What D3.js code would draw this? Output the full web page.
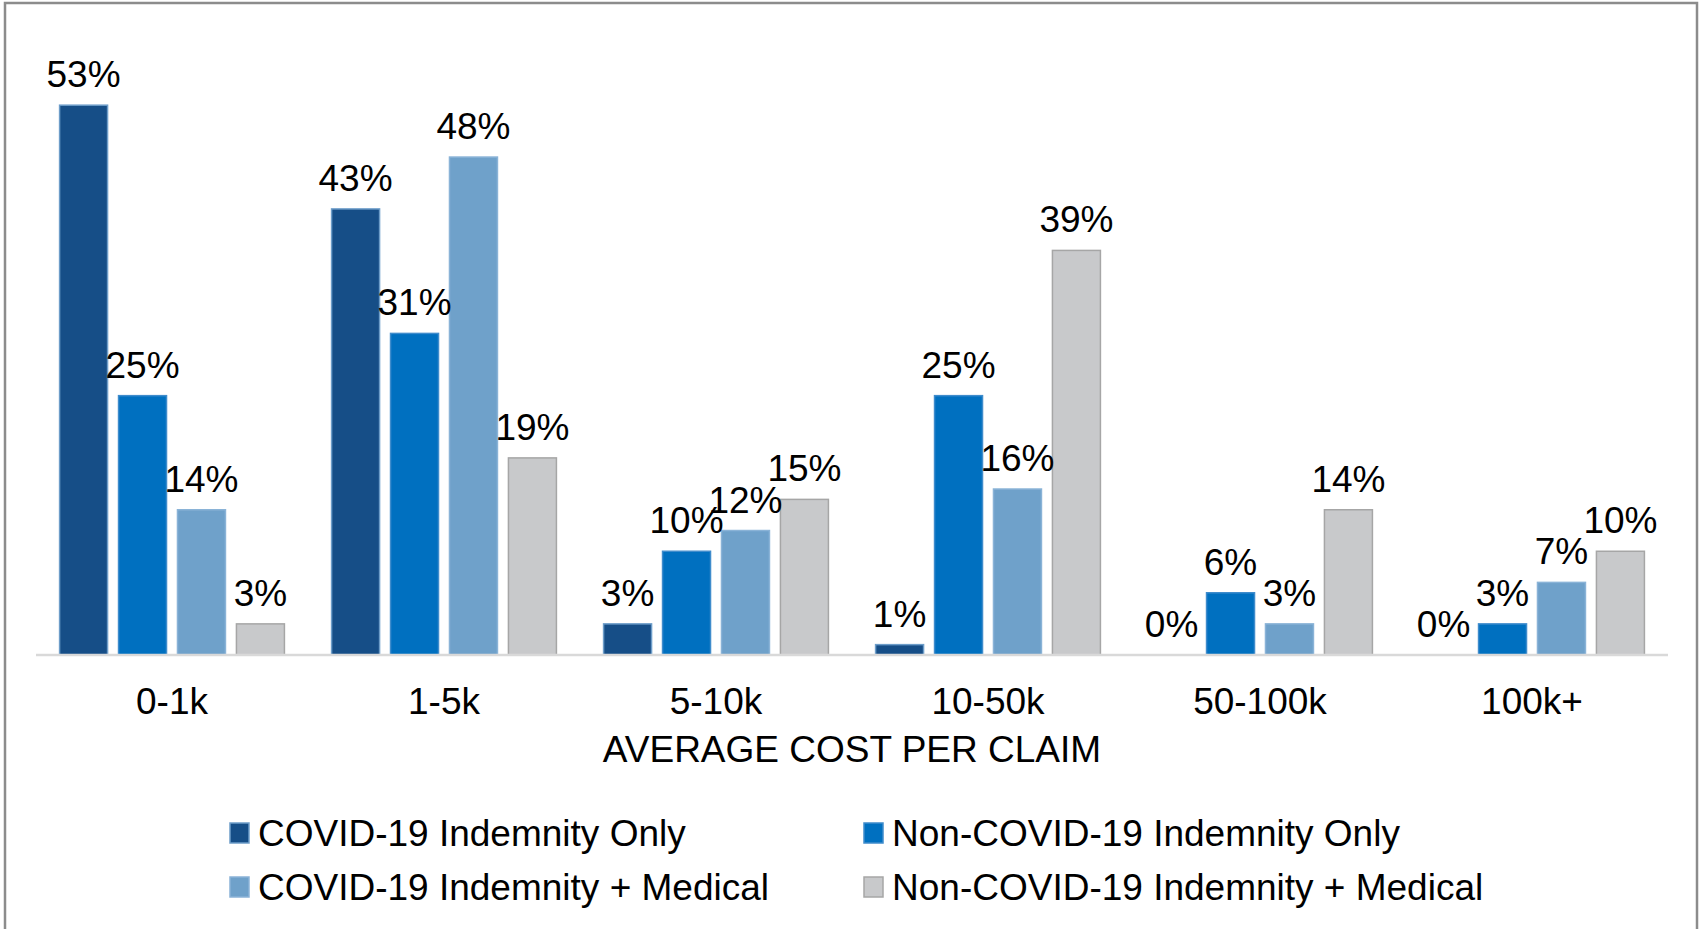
<!DOCTYPE html>
<html>
<head>
<meta charset="utf-8">
<script src="https://cdn.jsdelivr.net/npm/d3@7"></script>
<style>
  html, body { margin: 0; padding: 0; background: #ffffff; }
  svg { display: block; }
  text { font-family: "Liberation Sans", Arial, sans-serif; fill: #000; }
</style>
</head>
<body>
<svg id="chart" width="1700" height="929"></svg>
<script>
// Cost bands on the x axis
const categories = ["0-1k", "1-5k", "5-10k", "10-50k", "50-100k", "100k+"];

// Series names (legend order)
const seriesNames = [
  "COVID-19 Indemnity Only",
  "Non-COVID-19 Indemnity Only",
  "COVID-19 Indemnity + Medical",
  "Non-COVID-19 Indemnity + Medical"
];

// Share of claims (%) per cost band for each series
const covidIndemnityOnly     = [53, 43, 3, 1, 0, 0];
const nonCovidIndemnityOnly  = [25, 31, 10, 25, 6, 3];
const covidIndemnityMedical  = [14, 48, 12, 16, 3, 7];
const nonCovidIndemnityMedical = [3, 19, 15, 39, 14, 10];

const seriesValues = [covidIndemnityOnly, nonCovidIndemnityOnly, covidIndemnityMedical, nonCovidIndemnityMedical];

const fills   = ["#164e87", "#0070c0", "#6fa1ca", "#c8c9cb"];
const strokes = ["#6d9dc9", "#3f8ccc", "#8ab3d7", "#a6a6a6"];

const svg = d3.select("#chart");

// Outer frame
svg.append("rect")
  .attr("x", 5).attr("y", 3)
  .attr("width", 1692).attr("height", 960)
  .attr("fill", "none")
  .attr("stroke", "#8c8c8c")
  .attr("stroke-width", 2.5);

const plotLeft = 36, plotRight = 1668, baseY = 655;

const x0 = d3.scaleBand().domain(categories).range([plotLeft, plotRight]).padding(0);
const x1 = d3.scaleBand().domain(d3.range(seriesNames.length))
  .range([0, x0.bandwidth()])
  .paddingInner(0.186)
  .paddingOuter(0.4);
const y = d3.scaleLinear().domain([0, 60]).range([baseY, baseY - 60 * 10.374]);

const rows = categories.map((c, i) => ({
  cat: c,
  vals: seriesValues.map((arr, s) => ({ s, v: arr[i] }))
}));

const groups = svg.append("g").selectAll("g")
  .data(rows).join("g")
  .attr("transform", d => `translate(${x0(d.cat)},0)`);

groups.selectAll("rect")
  .data(d => d.vals.filter(e => e.v > 0))
  .join("rect")
  .attr("x", e => x1(e.s))
  .attr("y", e => y(e.v))
  .attr("width", x1.bandwidth())
  .attr("height", e => y(0) - y(e.v))
  .attr("fill", e => fills[e.s])
  .attr("stroke", e => strokes[e.s])
  .attr("stroke-width", 1.5);

// Baseline
svg.append("line")
  .attr("x1", plotLeft).attr("x2", plotRight)
  .attr("y1", baseY).attr("y2", baseY)
  .attr("stroke", "#d9d9d9").attr("stroke-width", 2.5);

// Value labels above bars
groups.selectAll("text.val")
  .data(d => d.vals)
  .join("text")
  .attr("class", "val")
  .attr("x", e => x1(e.s) + x1.bandwidth() / 2)
  .attr("y", e => y(e.v) - 18)
  .attr("text-anchor", "middle")
  .attr("font-size", 37)
  .text(e => e.v + "%");

// Category axis labels
const xAxis = d3.axisBottom(x0).tickSize(0).tickPadding(0);
const axisG = svg.append("g").attr("transform", `translate(0,${baseY})`).call(xAxis);
axisG.select(".domain").remove();
axisG.selectAll("text")
  .attr("dy", null)
  .attr("y", 59)
  .attr("font-size", 37)
  .attr("font-family", "Liberation Sans, Arial, sans-serif")
  .attr("fill", "#000");

// Axis title
svg.append("text")
  .attr("x", (plotLeft + plotRight) / 2)
  .attr("y", 762)
  .attr("text-anchor", "middle")
  .attr("font-size", 37)
  .text("AVERAGE COST PER CLAIM");

// Legend: two columns, two rows
const legendCols = [230, 864];
const legendRows = [833, 887];
const legend = svg.append("g").selectAll("g")
  .data(seriesNames.map((n, i) => ({ n, i })))
  .join("g")
  .attr("transform", d => `translate(${legendCols[d.i % 2]},${legendRows[Math.floor(d.i / 2)]})`);

legend.append("rect")
  .attr("x", 0).attr("y", -10)
  .attr("width", 19).attr("height", 20)
  .attr("fill", d => fills[d.i])
  .attr("stroke", d => strokes[d.i])
  .attr("stroke-width", 1.5);

legend.append("text")
  .attr("x", 28)
  .attr("y", 13)
  .attr("font-size", 37)
  .text(d => d.n);
</script>
</body>
</html>
